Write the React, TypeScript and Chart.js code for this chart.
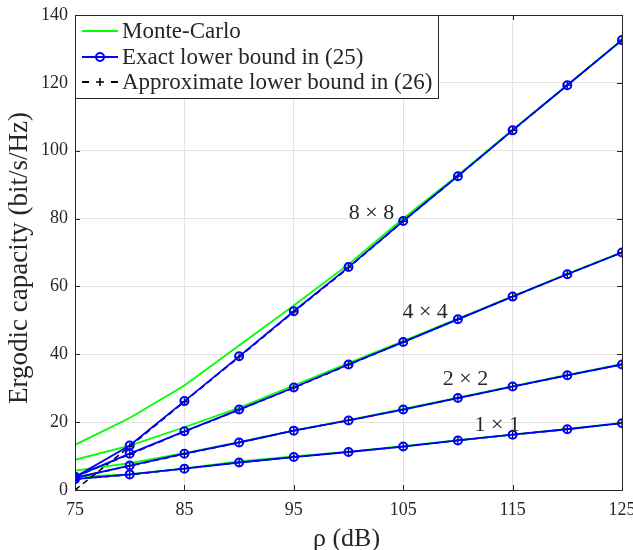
import React, { useEffect, useRef } from "react";
import { Chart, registerables } from "chart.js";

Chart.register(...registerables);

const rho = [75, 80, 85, 90, 95, 100, 105, 110, 115, 120, 125];
const xTicks = [75, 85, 95, 105, 115, 125];
const yTicks = [0, 20, 40, 60, 80, 100, 120, 140];

// Monte-Carlo
const mc1 = [3.9, 4.6, 6.4, 8.4, 9.9, 11.3, 12.9, 14.7, 16.3, 18.0, 19.8];
const mc2 = [5.7, 7.9, 10.9, 14.1, 17.6, 20.6, 23.9, 27.2, 30.6, 33.9, 37.1];
const mc4 = [8.9, 13.1, 18.5, 24.2, 30.8, 37.4, 43.9, 50.5, 57.1, 63.7, 70.1];
const mc8 = [13.3, 21.2, 30.8, 42.6, 54.4, 66.5, 80.0, 92.8, 106.2, 119.4, 132.7];
// Exact lower bound (25)
const ex1 = [3.2, 4.6, 6.3, 8.1, 9.7, 11.2, 12.8, 14.6, 16.3, 17.9, 19.7];
const ex2 = [3.6, 7.2, 10.7, 14.0, 17.5, 20.5, 23.7, 27.1, 30.5, 33.8, 37.0];
const ex4 = [3.9, 10.7, 17.3, 23.7, 30.2, 37.0, 43.6, 50.3, 57.0, 63.6, 70.0];
const ex8 = [3.8, 13.1, 26.2, 39.4, 52.7, 65.7, 79.3, 92.5, 106.0, 119.3, 132.6];
// Approximate lower bound (26)
const ap1 = [3.2, 4.5, 6.3, 8.1, 9.7, 11.2, 12.8, 14.6, 16.3, 17.9, 19.7];
const ap2 = [3.6, 7.1, 10.6, 14.0, 17.5, 20.5, 23.7, 27.1, 30.5, 33.8, 37.0];
const ap4 = [3.9, 10.5, 17.2, 23.6, 30.1, 36.9, 43.6, 50.3, 57.0, 63.6, 70.0];
const ap8 = [0, 12.8, 26.0, 39.2, 52.5, 65.5, 79.2, 92.5, 106.0, 119.3, 132.6];

const legendLabels = ["Monte-Carlo", "Exact lower bound in (25)", "Approximate lower bound in (26)"];
const sizeLabels = ["8 × 8", "4 × 4", "2 × 2", "1 × 1"];
const sizeLabelRho = [102.1, 107.0, 110.7, 113.6];
const sizeLabelCap = [81.6, 52.4, 32.6, 19.0];
const xTitle = "ρ (dB)";
const yTitle = "Ergodic capacity (bit/s/Hz)";

const FONT = "'Liberation Serif', 'DejaVu Serif', serif";
const TXT = "#262626";
const GREEN = "#00ff00";
const BLUE = "#0000ff";
const BLACK = "#000000";

const pts = (d: number[]) => rho.map((r, i) => ({ x: r, y: d[i] }));

const greenDs = (d: number[]) => ({
  data: pts(d),
  borderColor: GREEN,
  borderWidth: 1.8,
  pointRadius: 0,
  order: 2,
});
const blueDs = (d: number[]) => ({
  data: pts(d),
  borderColor: BLUE,
  borderWidth: 1.8,
  pointStyle: "circle",
  pointRadius: 4,
  pointBorderWidth: 2,
  pointBorderColor: BLUE,
  pointBackgroundColor: "rgba(0,0,0,0)",
  order: 0,
});
const blackDs = (d: number[]) => ({
  data: pts(d),
  borderColor: BLACK,
  borderWidth: 1.5,
  borderDash: [6, 4],
  pointStyle: "cross",
  pointRadius: 3.5,
  pointBorderWidth: 1.2,
  pointBorderColor: BLACK,
  order: 1,
});

const overlay = {
  id: "overlay",
  afterDraw(chart: any) {
    const { ctx, chartArea: a, scales } = chart;
    const x = scales.x;
    const y = scales.y;
    ctx.save();

    // inward ticks
    ctx.strokeStyle = TXT;
    ctx.lineWidth = 1;
    ctx.beginPath();
    xTicks.forEach((v) => {
      const px = Math.round(x.getPixelForValue(v)) + 0.5;
      ctx.moveTo(px, a.bottom);
      ctx.lineTo(px, a.bottom - 5);
      ctx.moveTo(px, a.top);
      ctx.lineTo(px, a.top + 5);
    });
    yTicks.forEach((v) => {
      const py = Math.round(y.getPixelForValue(v)) + 0.5;
      ctx.moveTo(a.left, py);
      ctx.lineTo(a.left + 5, py);
      ctx.moveTo(a.right, py);
      ctx.lineTo(a.right - 5, py);
    });
    ctx.stroke();

    // box
    ctx.strokeRect(Math.round(a.left) + 0.5, Math.round(a.top) + 0.5, Math.round(a.right - a.left), Math.round(a.bottom - a.top));

    // size annotations
    ctx.fillStyle = TXT;
    ctx.font = `22px ${FONT}`;
    ctx.textAlign = "center";
    ctx.textBaseline = "middle";
    sizeLabels.forEach((t, i) => {
      ctx.fillText(t, x.getPixelForValue(sizeLabelRho[i]), y.getPixelForValue(sizeLabelCap[i]));
    });

    // axis titles
    ctx.font = `26px ${FONT}`;
    ctx.textBaseline = "alphabetic";
    ctx.textAlign = "center";
    ctx.fillText(xTitle, (a.left + a.right) / 2 - 2, 546);
    ctx.save();
    ctx.translate(27, 258);
    ctx.rotate(-Math.PI / 2);
    ctx.font = `27px ${FONT}`;
    ctx.fillText(yTitle, 0, 0);
    ctx.restore();

    // legend
    ctx.font = `23px ${FONT}`;
    const textX = a.left + 47;
    const maxW = Math.max(...legendLabels.map((t) => ctx.measureText(t).width));
    const boxL = Math.round(a.left) + 0.5;
    const boxT = Math.round(a.top) + 0.5;
    const boxW = Math.round(textX + maxW + 6 - a.left);
    const boxH = 83;
    ctx.fillStyle = "#ffffff";
    ctx.fillRect(boxL, boxT, boxW, boxH);
    ctx.strokeStyle = TXT;
    ctx.lineWidth = 1;
    ctx.strokeRect(boxL, boxT, boxW, boxH);

    const rows = [a.top + 16, a.top + 42, a.top + 67];
    const lx0 = a.left + 7;
    const lx1 = a.left + 43;
    const lmid = (lx0 + lx1) / 2;

    // row 1: green line
    ctx.strokeStyle = GREEN;
    ctx.lineWidth = 1.8;
    ctx.beginPath();
    ctx.moveTo(lx0, rows[0]);
    ctx.lineTo(lx1, rows[0]);
    ctx.stroke();

    // row 2: blue line + circle
    ctx.strokeStyle = BLUE;
    ctx.beginPath();
    ctx.moveTo(lx0, rows[1]);
    ctx.lineTo(lx1, rows[1]);
    ctx.stroke();
    ctx.lineWidth = 2;
    ctx.beginPath();
    ctx.arc(lmid, rows[1], 4, 0, Math.PI * 2);
    ctx.stroke();

    // row 3: black dashes + plus
    ctx.strokeStyle = BLACK;
    ctx.lineWidth = 1.8;
    ctx.beginPath();
    ctx.moveTo(lx0, rows[2]);
    ctx.lineTo(lx0 + 7, rows[2]);
    ctx.moveTo(lx1 - 7, rows[2]);
    ctx.lineTo(lx1, rows[2]);
    ctx.stroke();
    ctx.lineWidth = 1.5;
    ctx.beginPath();
    ctx.moveTo(lmid - 4, rows[2]);
    ctx.lineTo(lmid + 4, rows[2]);
    ctx.moveTo(lmid, rows[2] - 4);
    ctx.lineTo(lmid, rows[2] + 4);
    ctx.stroke();

    ctx.fillStyle = TXT;
    ctx.textAlign = "left";
    ctx.textBaseline = "alphabetic";
    legendLabels.forEach((t, i) => ctx.fillText(t, textX, rows[i] + 7));

    ctx.restore();
  },
};

export default function App() {
  const ref = useRef<HTMLCanvasElement | null>(null);
  useEffect(() => {
    if (!ref.current) return;
    Chart.defaults.font.family = FONT;
    const chart = new Chart(ref.current, {
      type: "line",
      data: {
        datasets: [
          greenDs(mc1), greenDs(mc2), greenDs(mc4), greenDs(mc8),
          blueDs(ex1), blueDs(ex2), blueDs(ex4), blueDs(ex8),
          blackDs(ap1), blackDs(ap2), blackDs(ap4), blackDs(ap8),
        ] as any,
      },
      options: {
        animation: false,
        responsive: false,
        layout: { padding: { top: 15, right: 11, left: 0, bottom: 0 } },
        plugins: { legend: { display: false }, tooltip: { enabled: false } },
        scales: {
          x: {
            type: "linear",
            min: 75,
            max: 125,
            afterBuildTicks: (s: any) => {
              s.ticks = xTicks.map((v) => ({ value: v }));
            },
            afterFit: (s: any) => {
              s.height = 60;
              s.paddingLeft = 0;
              s.paddingRight = 0;
            },
            grid: { color: "#e3e3e3", drawTicks: false },
            border: { display: false },
            ticks: {
              padding: 9,
              color: TXT,
              font: { family: FONT, size: 18 },
              maxRotation: 0,
              autoSkip: false,
            },
          },
          y: {
            type: "linear",
            min: 0,
            max: 140,
            afterBuildTicks: (s: any) => {
              s.ticks = yTicks.map((v) => ({ value: v }));
            },
            afterFit: (s: any) => {
              s.width = 75;
              s.paddingTop = 0;
              s.paddingBottom = 0;
            },
            grid: { color: "#e3e3e3", drawTicks: false },
            border: { display: false },
            ticks: {
              padding: 7,
              color: TXT,
              font: { family: FONT, size: 18 },
              autoSkip: false,
            },
          },
        },
      } as any,
      plugins: [overlay],
    });
    return () => chart.destroy();
  }, []);
  return (
    <div style={{ position: "absolute", left: 0, top: 0, width: 633, height: 550, background: "#fff" }}>
      <canvas ref={ref} width={633} height={550} style={{ display: "block" }} />
    </div>
  );
}
